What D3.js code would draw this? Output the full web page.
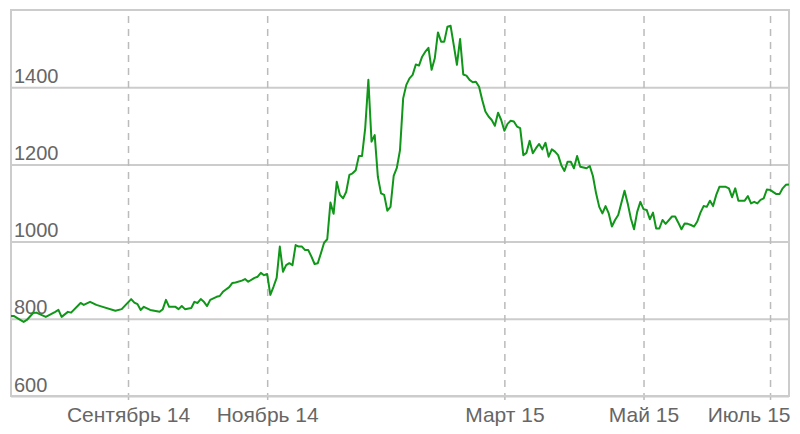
<!DOCTYPE html>
<html>
<head>
<meta charset="utf-8">
<script src="https://cdn.jsdelivr.net/npm/d3@7"></script>
<style>
    body { margin: 0; background: #fff; }
    svg { display: block; font-family: Arial, "Liberation Sans", sans-serif; }
</style>
</head>
<body>
<svg id="chart" width="800" height="434"></svg>
<script>
// Trading session number (counted from mid-July 2014) and closing price
const sessions = [
    0, 1, 2, 4, 5, 7, 8, 11, 14, 15, 16, 18, 19, 22, 23, 25, 27, 29, 33, 35,
    38, 39, 40, 41, 42, 44, 47, 48, 49, 50, 52, 53, 54, 55, 57, 58, 59, 60, 61, 62,
    63, 65, 66, 67, 69, 70, 71, 73, 74, 75, 77, 78, 79, 80, 81, 82, 83, 84, 85, 86,
    87, 88, 89, 90, 91, 92, 93, 94, 95, 96, 97, 98, 99, 100, 101, 102, 103, 104, 105, 106,
    107, 108, 109, 110, 111, 112, 113, 114, 115, 116, 117, 118, 119, 120, 121, 122, 123, 124, 125, 126,
    127, 128, 129, 130, 131, 132, 133, 134, 135, 136, 137, 138, 139, 140, 141, 142, 143, 144, 145, 146,
    147, 148, 149, 150, 151, 152, 153, 154, 155, 156, 157, 158, 159, 160, 161, 162, 163, 164, 165, 166,
    167, 168, 169, 170, 171, 172, 173, 174, 175, 176, 177, 178, 179, 180, 181, 182, 183, 184, 185, 186,
    187, 188, 189, 190, 191, 192, 194, 195, 196, 197, 198, 199, 200, 201, 202, 203, 204, 205, 206, 207,
    209, 210, 211, 212, 213, 214, 215, 216, 217, 218, 219, 220, 221, 222, 223, 224, 226, 227, 228, 229,
    230, 232, 233, 234, 235, 236, 237, 238, 239, 240, 242, 243, 244, 245, 246
];
const prices = [
    807, 807, 802, 792, 797, 815, 816, 805, 818, 823, 805, 818, 816, 841, 836, 844, 836, 831, 821, 825,
    851, 842, 838, 823, 831, 823, 818, 825, 849, 831, 831, 825, 833, 825, 828, 844, 841, 851, 844, 833,
    849, 857, 859, 870, 882, 893, 894, 899, 903, 896, 906, 909, 919, 913, 916, 862, 883, 906, 987, 922,
    939, 944, 939, 991, 987, 987, 978, 978, 961, 942, 944, 970, 997, 1006, 1101, 1072, 1155, 1121, 1112, 1129,
    1173, 1177, 1185, 1222, 1222, 1294, 1419, 1259, 1276, 1168, 1125, 1121, 1080, 1090, 1170, 1191, 1237, 1371, 1406, 1423,
    1432, 1459, 1456, 1479, 1492, 1502, 1445, 1475, 1542, 1518, 1518, 1557, 1559, 1509, 1458, 1525, 1433, 1430, 1419, 1413,
    1414, 1401, 1367, 1337, 1324, 1315, 1300, 1334, 1315, 1287, 1305, 1313, 1311, 1298, 1294, 1224, 1230, 1261, 1229, 1242,
    1253, 1239, 1256, 1220, 1239, 1233, 1224, 1198, 1183, 1207, 1207, 1190, 1222, 1194, 1192, 1190, 1196, 1170, 1125, 1090,
    1073, 1092, 1073, 1039, 1056, 1069, 1132, 1099, 1060, 1032, 1077, 1103, 1084, 1082, 1058, 1075, 1034, 1034, 1056, 1046,
    1065, 1065, 1049, 1032, 1047, 1046, 1043, 1039, 1052, 1075, 1092, 1090, 1106, 1092, 1121, 1142, 1142, 1138, 1115, 1138,
    1106, 1106, 1118, 1099, 1103, 1099, 1108, 1112, 1135, 1134, 1123, 1123, 1138, 1147, 1148
];

// Month ticks (session of first trading day in month)
const tickSessions = [37, 81, 156, 200, 240];
const tickLabels = ['Сентябрь 14', 'Ноябрь 14', 'Март 15', 'Май 15', 'Июль 15'];
const yTicks = [600, 800, 1000, 1200, 1400];

const plot = { left: 11, right: 789, top: 10, bottom: 396 };
const gridColor = '#cccccc';
const textColor = '#666666';

const svg = d3.select('#chart');

const xScale = d3.scaleLinear()
    .domain([0, 246])
    .range([plot.left, plot.right]);

const yScale = d3.scaleLinear()
    .domain([600, 1600])
    .range([plot.bottom, plot.top]);

// Horizontal gridlines + labels sitting inside the plot
const yAxis = svg.append('g')
    .attr('class', 'y-axis')
    .attr('transform', `translate(${plot.left}, 0)`)
    .call(d3.axisRight(yScale)
        .tickValues(yTicks)
        .tickSize(plot.right - plot.left)
        .tickFormat(d3.format('d')));

yAxis.select('.domain').remove();
yAxis.selectAll('line')
    .attr('stroke', gridColor)
    .attr('stroke-width', 2);
yAxis.selectAll('text')
    .attr('x', 3)
    .attr('dy', -5)
    .attr('text-anchor', 'start')
    .attr('font-size', '20px')
    .attr('font-family', 'Arial, "Liberation Sans", sans-serif')
    .attr('fill', textColor);

// Vertical dashed month lines + labels below
const xAxis = svg.append('g')
    .attr('class', 'x-axis')
    .attr('transform', 'translate(0, 400)')
    .call(d3.axisBottom(xScale)
        .tickValues(tickSessions)
        .tickFormat((d, i) => tickLabels[i])
        .tickSizeInner(-(400 - plot.top))
        .tickSizeOuter(0)
        .tickPadding(7));

xAxis.select('.domain').remove();
xAxis.selectAll('line')
    .attr('stroke', '#bbbbbb')
    .attr('stroke-width', 1.5)
    .attr('stroke-dasharray', '7,6');
xAxis.selectAll('text')
    .attr('font-size', '21px')
    .attr('font-family', 'Arial, "Liberation Sans", sans-serif')
    .attr('fill', textColor);

// Keep the last label inside the canvas
xAxis.selectAll('.tick').each(function (d) {
    const text = d3.select(this).select('text');
    const w = text.node().getComputedTextLength();
    const cx = xScale(d);
    if (cx + w / 2 > plot.right + 1) {
        text.attr('x', (plot.right + 1) - w / 2 - cx);
    }
});

// Plot frame
svg.append('rect')
    .attr('x', plot.left)
    .attr('y', plot.top)
    .attr('width', plot.right - plot.left)
    .attr('height', plot.bottom - plot.top)
    .attr('fill', 'none')
    .attr('stroke', gridColor)
    .attr('stroke-width', 2);

// Price line
const points = sessions.map((s, i) => ({ s, v: prices[i] }));

const line = d3.line()
    .x(d => xScale(d.s))
    .y(d => yScale(d.v));

svg.append('path')
    .datum(points)
    .attr('fill', 'none')
    .attr('stroke', '#109618')
    .attr('stroke-width', 2)
    .attr('stroke-linejoin', 'round')
    .attr('d', line);
</script>
</body>
</html>
